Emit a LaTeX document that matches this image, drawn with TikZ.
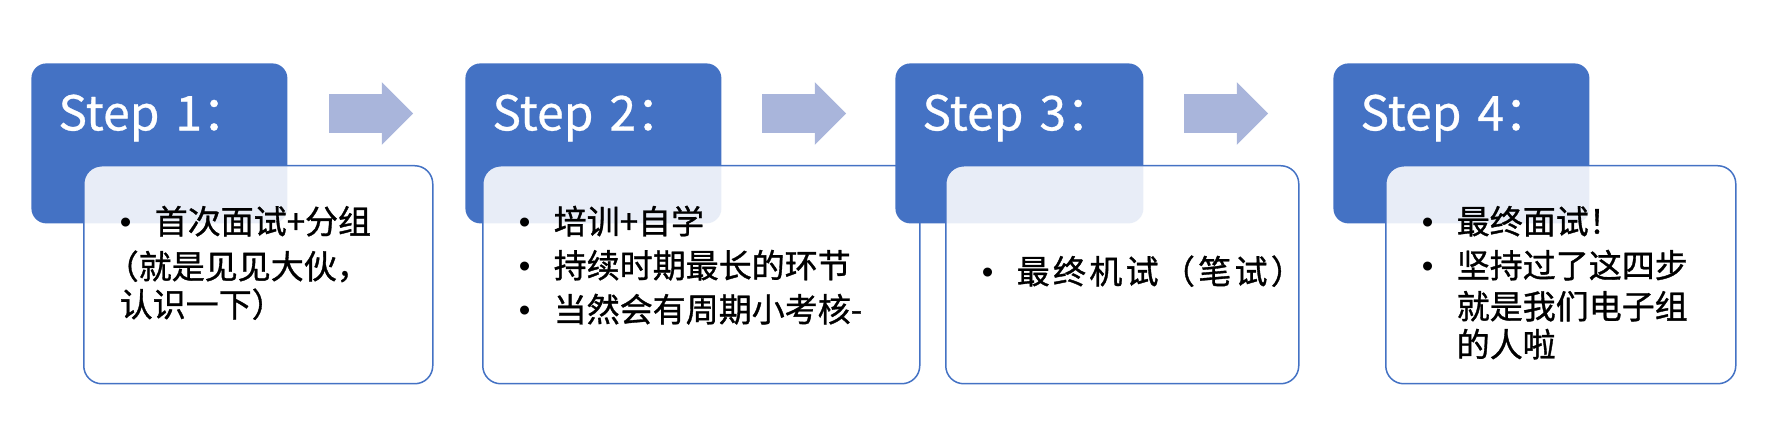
\documentclass[tikz,border=0pt]{standalone}
\usepackage{fontspec}
\setsansfont{Noto Sans CJK SC}
\newfontfamily\bltfont{Liberation Sans}
\usepackage{tikz}
\usetikzlibrary{positioning,shapes.arrows}
\definecolor{stepblue}{HTML}{4472C4}
\definecolor{arrowblue}{RGB}{169,181,219}
\newcommand{\itm}{\makebox[17.5pt][l]{\bltfont •}}
\tikzset{
  stepnode/.style = {align=left, inner ysep=0pt, anchor=north west,
    font=\sffamily},
  step_h/.style = {stepnode, rectangle, rounded corners=7.5pt, fill=stepblue,
    text=white, inner xsep=13.5pt, text width=#1, text height=33.5pt,
    text depth=46.5pt, font=\sffamily\fontsize{24pt}{28pt}\selectfont
    \addfontfeature{FakeBold=0.6}},% titre bleu
  step_b/.style = {stepnode, rectangle, rounded corners=9pt, draw=stepblue,
    line width=0.75pt, fill=white, fill opacity=0.88, text opacity=1,
    inner xsep=18pt, text width=#1, text height=34pt, text depth=75pt,
    font=\sffamily\fontsize{16.5pt}{19pt}\selectfont
    \addfontfeature{FakeBold=1}},% cadre blanc
  step_a/.style = {single arrow, fill=arrowblue, inner xsep=0pt,
    inner ysep=9.5pt, minimum height=42pt, single arrow head extend=6pt}% fleche
}

\begin{document}
\begin{tikzpicture}[x=0.5pt,y=-0.5pt]
    \useasboundingbox (0,0) rectangle (1770,426);
    % step 1
    \node [step_h=101pt] (h1) at (31,63) {Step 1：};
    \node [step_b=138.5pt, below right=51pt and 26pt of h1.north west] (b1)
        {\itm 首次面试+分组\\[3.5pt]\hspace*{-7pt}（就是见见大伙，\\认识一下）};
    \node [step_a, right=20.5pt of h1.north east, yshift=-25.25pt] (a1) {};
    % step 2
    \node [step_h=101pt] (h2) at (465,63) {Step 2：};
    \node [step_b=182.5pt, below right=51pt and 8.5pt of h2.north west] (b2)
        {\itm 培训+自学\\[3pt]\itm 持续时期最长的环节\\[3pt]\itm 当然会有周期小考核-};
    \node [step_a, right=20pt of h2.north east, yshift=-25.25pt] (a2) {};
    % step 3
    \node [step_h=97pt] (h3) at (895,63) {Step 3：};
    \node [step_b=140.5pt, text height=59pt, text depth=50pt,
        below right=51pt and 25pt of h3.north west] (b3)
        {\itm \addfontfeature{LetterSpace=10}最终机试（笔试）};
    \node [step_a, right=20pt of h3.north east, yshift=-25.25pt] (a3) {};
    % step 4
    \node [step_h=101pt] (h4) at (1333,63) {Step 4：};
    \node [step_b=139pt, below right=51pt and 26pt of h4.north west] (b4)
        {\itm 最终面试！\\[3pt]\itm 坚持过了这四步\\[1.5pt]\hspace*{17.5pt}就是我们电子组\\
        \hspace*{17.5pt}的人啦};
\end{tikzpicture}
\end{document}
